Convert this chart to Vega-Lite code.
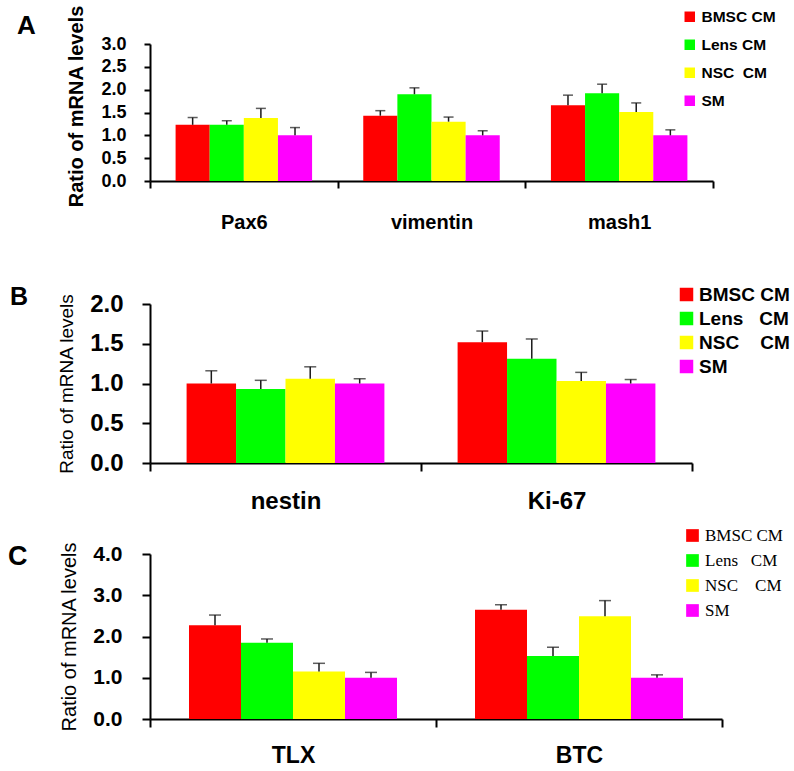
{
  "$schema": "https://vega.github.io/schema/vega-lite/v6.json",
  "padding": {"left": 8, "top": 4, "right": 0, "bottom": 0},
  "background": "white",
  "columns": 1,
  "align": "none",
  "bounds": "full",
  "spacing": 53,
  "datasets": {
    "a": [
      {"gene": "Pax6", "group": "BMSC CM", "value": 1.23, "upper": 1.39},
      {"gene": "Pax6", "group": "Lens CM", "value": 1.23, "upper": 1.32},
      {"gene": "Pax6", "group": "NSC CM", "value": 1.38, "upper": 1.59},
      {"gene": "Pax6", "group": "SM", "value": 1.0, "upper": 1.17},
      {"gene": "vimentin", "group": "BMSC CM", "value": 1.43, "upper": 1.54},
      {"gene": "vimentin", "group": "Lens CM", "value": 1.9, "upper": 2.04},
      {"gene": "vimentin", "group": "NSC CM", "value": 1.3, "upper": 1.4},
      {"gene": "vimentin", "group": "SM", "value": 1.0, "upper": 1.1},
      {"gene": "mash1", "group": "BMSC CM", "value": 1.66, "upper": 1.88},
      {"gene": "mash1", "group": "Lens CM", "value": 1.92, "upper": 2.12},
      {"gene": "mash1", "group": "NSC CM", "value": 1.51, "upper": 1.71},
      {"gene": "mash1", "group": "SM", "value": 1.0, "upper": 1.12}
    ],
    "b": [
      {"gene": "nestin", "group": "BMSC CM", "value": 1.0, "upper": 1.16},
      {"gene": "nestin", "group": "Lens CM", "value": 0.93, "upper": 1.04},
      {"gene": "nestin", "group": "NSC CM", "value": 1.06, "upper": 1.21},
      {"gene": "nestin", "group": "SM", "value": 1.0, "upper": 1.06},
      {"gene": "Ki-67", "group": "BMSC CM", "value": 1.52, "upper": 1.66},
      {"gene": "Ki-67", "group": "Lens CM", "value": 1.31, "upper": 1.56},
      {"gene": "Ki-67", "group": "NSC CM", "value": 1.03, "upper": 1.14},
      {"gene": "Ki-67", "group": "SM", "value": 1.0, "upper": 1.05}
    ],
    "c": [
      {"gene": "TLX", "group": "BMSC CM", "value": 2.27, "upper": 2.52},
      {"gene": "TLX", "group": "Lens CM", "value": 1.85, "upper": 1.94},
      {"gene": "TLX", "group": "NSC CM", "value": 1.15, "upper": 1.35},
      {"gene": "TLX", "group": "SM", "value": 1.0, "upper": 1.13},
      {"gene": "BTC", "group": "BMSC CM", "value": 2.65, "upper": 2.77},
      {"gene": "BTC", "group": "Lens CM", "value": 1.53, "upper": 1.74},
      {"gene": "BTC", "group": "NSC CM", "value": 2.49, "upper": 2.87},
      {"gene": "BTC", "group": "SM", "value": 1.0, "upper": 1.07}
    ]
  },
  "resolve": {"scale": {"color": "independent", "y": "independent", "x": "independent", "xOffset": "independent"}, "legend": {"color": "independent"}, "axis": {"x": "independent", "y": "independent"}},
  "concat": [
    {
      "width": 563,
      "height": 137,
      "title": {"text": "A", "anchor": "start", "frame": "group", "dx": -133, "dy": 34, "fontSize": 26, "font": "Liberation Sans", "fontWeight": "bold", "color": "black", "offset": 0},
      "data": {"name": "a"},
      "encoding": {
        "x": {"field": "gene", "type": "nominal", "sort": ["Pax6", "vimentin", "mash1"], "scale": {"paddingInner": 0, "paddingOuter": 0},
          "axis": {"title": null, "labelAngle": 0, "tickBand": "extent", "labelFont": "Liberation Sans", "labelFontWeight": "bold", "labelFontSize": 20, "labelColor": "black", "labelPadding": 24, "tickSize": 7, "tickWidth": 2, "tickColor": "black", "domainColor": "black", "domainWidth": 2}},
        "xOffset": {"field": "group", "type": "nominal", "sort": ["BMSC CM", "Lens CM", "NSC CM", "SM"], "scale": {"paddingInner": 0, "paddingOuter": 0.75}}
      },
      "layer": [
        {
          "mark": {"type": "bar"},
          "encoding": {
            "y": {"field": "value", "type": "quantitative", "scale": {"domain": [0, 3]},
              "axis": {"title": "Ratio of mRNA levels", "values": [0, 0.5, 1, 1.5, 2, 2.5, 3], "format": ".1f", "grid": false, "labelOverlap": false, "labelFont": "Liberation Sans", "labelFontWeight": "bold", "labelFontSize": 18, "labelColor": "black", "labelPadding": 18, "tickSize": 6, "tickWidth": 2, "tickColor": "black", "domainColor": "black", "domainWidth": 2, "titleFont": "Liberation Sans", "titleFontWeight": "bold", "titleFontSize": 20, "titleColor": "black", "titlePadding": 14, "titleY": 62}},
            "color": {"field": "group", "type": "nominal", "scale": {"domain": ["BMSC CM", "Lens CM", "NSC CM", "SM"], "range": ["#ff0000", "#00ff00", "#ffff00", "#ff00ff"]},
              "legend": {"title": null, "orient": "none", "legendX": 532, "legendY": -35, "padding": 0, "symbolType": "square", "symbolSize": 110, "symbolStrokeWidth": 0, "labelFont": "Liberation Sans", "labelFontWeight": "bold", "labelFontSize": 15.5, "labelColor": "black", "labelOffset": 4, "rowPadding": 11,
                "labelExpr": "datum.label == 'NSC CM' ? 'NSC\u00a0\u00a0CM' : datum.label"}}
          }
        },
        {
          "mark": {"type": "rule", "color": "#1a1a1a", "strokeWidth": 1.5},
          "encoding": {"y": {"field": "value", "type": "quantitative",
              "axis": {"title": "Ratio of mRNA levels", "values": [0, 0.5, 1, 1.5, 2, 2.5, 3], "format": ".1f", "grid": false, "labelOverlap": false, "labelFont": "Liberation Sans", "labelFontWeight": "bold", "labelFontSize": 18, "labelColor": "black", "labelPadding": 18, "tickSize": 6, "tickWidth": 2, "tickColor": "black", "domainColor": "black", "domainWidth": 2, "titleFont": "Liberation Sans", "titleFontWeight": "bold", "titleFontSize": 20, "titleColor": "black", "titlePadding": 14, "titleY": 62}},
            "y2": {"field": "upper"}}
        },
        {
          "mark": {"type": "tick", "color": "#1a1a1a", "thickness": 1.5, "size": 10},
          "encoding": {"y": {"field": "upper", "type": "quantitative",
              "axis": {"title": "Ratio of mRNA levels", "values": [0, 0.5, 1, 1.5, 2, 2.5, 3], "format": ".1f", "grid": false, "labelOverlap": false, "labelFont": "Liberation Sans", "labelFontWeight": "bold", "labelFontSize": 18, "labelColor": "black", "labelPadding": 18, "tickSize": 6, "tickWidth": 2, "tickColor": "black", "domainColor": "black", "domainWidth": 2, "titleFont": "Liberation Sans", "titleFontWeight": "bold", "titleFontSize": 20, "titleColor": "black", "titlePadding": 14, "titleY": 62}}}
        }
      ]
    },
    {
      "columns": 1,
      "spacing": 14,
      "align": "none",
      "bounds": "full",
      "resolve": {"scale": {"color": "independent", "y": "independent", "x": "independent", "xOffset": "independent"}, "legend": {"color": "independent"}, "axis": {"x": "independent", "y": "independent"}},
      "concat": [
        {
          "width": 542,
          "height": 159,
          "title": {"text": "B", "anchor": "start", "frame": "group", "dx": -140, "dy": 25, "fontSize": 25, "font": "Liberation Sans", "fontWeight": "bold", "color": "black", "offset": 0},
          "data": {"name": "b"},
          "encoding": {
            "x": {"field": "gene", "type": "nominal", "sort": ["nestin", "Ki-67"], "scale": {"paddingInner": 0, "paddingOuter": 0},
              "axis": {"title": null, "labelAngle": 0, "tickBand": "extent", "labelFont": "Liberation Sans", "labelFontWeight": "bold", "labelFontSize": 24, "labelColor": "black", "labelPadding": 18, "tickSize": 8, "tickWidth": 2, "tickColor": "black", "domainColor": "black", "domainWidth": 2}},
            "xOffset": {"field": "group", "type": "nominal", "sort": ["BMSC CM", "Lens CM", "NSC CM", "SM"], "scale": {"paddingInner": 0, "paddingOuter": 0.74}}
          },
          "layer": [
            {
              "mark": {"type": "bar"},
              "encoding": {
                "y": {"field": "value", "type": "quantitative", "scale": {"domain": [0, 2]},
                  "axis": {"title": "Ratio of mRNA levels", "values": [0, 0.5, 1, 1.5, 2], "format": ".1f", "grid": false, "labelOverlap": false, "labelFont": "Liberation Sans", "labelFontWeight": "bold", "labelFontSize": 24, "labelColor": "black", "labelPadding": 19, "tickSize": 8, "tickWidth": 2, "tickColor": "black", "domainColor": "black", "domainWidth": 2, "titleFont": "Liberation Sans", "titleFontWeight": "normal", "titleFontSize": 19, "titleColor": "black", "titlePadding": 13}},
                "color": {"field": "group", "type": "nominal", "scale": {"domain": ["BMSC CM", "Lens CM", "NSC CM", "SM"], "range": ["#ff0000", "#00ff00", "#ffff00", "#ff00ff"]},
                  "legend": {"title": null, "orient": "none", "legendX": 527, "legendY": -19, "padding": 0, "symbolType": "square", "symbolSize": 182, "symbolStrokeWidth": 0, "labelFont": "Liberation Sans", "labelFontWeight": "bold", "labelFontSize": 19, "labelColor": "black", "labelOffset": 3, "rowPadding": 4,
                    "labelExpr": "datum.label == 'NSC CM' ? 'NSC\u00a0\u00a0\u00a0\u00a0CM' : datum.label == 'Lens CM' ? 'Lens\u00a0\u00a0\u00a0CM' : datum.label"}}
              }
            },
            {
              "mark": {"type": "rule", "color": "#1a1a1a", "strokeWidth": 1.5},
              "encoding": {"y": {"field": "value", "type": "quantitative",
                  "axis": {"title": "Ratio of mRNA levels", "values": [0, 0.5, 1, 1.5, 2], "format": ".1f", "grid": false, "labelOverlap": false, "labelFont": "Liberation Sans", "labelFontWeight": "bold", "labelFontSize": 24, "labelColor": "black", "labelPadding": 19, "tickSize": 8, "tickWidth": 2, "tickColor": "black", "domainColor": "black", "domainWidth": 2, "titleFont": "Liberation Sans", "titleFontWeight": "normal", "titleFontSize": 19, "titleColor": "black", "titlePadding": 13}},
                "y2": {"field": "upper"}}
            },
            {
              "mark": {"type": "tick", "color": "#1a1a1a", "thickness": 1.5, "size": 12},
              "encoding": {"y": {"field": "upper", "type": "quantitative",
                  "axis": {"title": "Ratio of mRNA levels", "values": [0, 0.5, 1, 1.5, 2], "format": ".1f", "grid": false, "labelOverlap": false, "labelFont": "Liberation Sans", "labelFontWeight": "bold", "labelFontSize": 24, "labelColor": "black", "labelPadding": 19, "tickSize": 8, "tickWidth": 2, "tickColor": "black", "domainColor": "black", "domainWidth": 2, "titleFont": "Liberation Sans", "titleFontWeight": "normal", "titleFontSize": 19, "titleColor": "black", "titlePadding": 13}}}
            }
          ]
        },
        {
          "width": 572,
          "height": 165,
          "title": {"text": "C", "anchor": "start", "frame": "group", "dx": -142, "dy": 44, "fontSize": 27, "font": "Liberation Sans", "fontWeight": "bold", "color": "black", "offset": 0},
          "data": {"name": "c"},
          "encoding": {
            "x": {"field": "gene", "type": "nominal", "sort": ["TLX", "BTC"], "scale": {"paddingInner": 0, "paddingOuter": 0},
              "axis": {"title": null, "labelAngle": 0, "tickBand": "extent", "labelFont": "Liberation Sans", "labelFontWeight": "bold", "labelFontSize": 23, "labelColor": "black", "labelPadding": 17, "tickSize": 8, "tickWidth": 2, "tickColor": "black", "domainColor": "black", "domainWidth": 2}},
            "xOffset": {"field": "group", "type": "nominal", "sort": ["BMSC CM", "Lens CM", "NSC CM", "SM"], "scale": {"paddingInner": 0, "paddingOuter": 0.75}}
          },
          "layer": [
            {
              "mark": {"type": "bar"},
              "encoding": {
                "y": {"field": "value", "type": "quantitative", "scale": {"domain": [0, 4]},
                  "axis": {"title": "Ratio of mRNA levels", "values": [0, 1, 2, 3, 4], "format": ".1f", "grid": false, "labelOverlap": false, "labelFont": "Liberation Sans", "labelFontWeight": "bold", "labelFontSize": 21, "labelColor": "black", "labelPadding": 20, "tickSize": 8, "tickWidth": 2, "tickColor": "black", "domainColor": "black", "domainWidth": 2, "titleFont": "Liberation Sans", "titleFontWeight": "normal", "titleFontSize": 20, "titleColor": "black", "titlePadding": 13}},
                "color": {"field": "group", "type": "nominal", "scale": {"domain": ["BMSC CM", "Lens CM", "NSC CM", "SM"], "range": ["#ff0000", "#00ff00", "#ffff00", "#ff00ff"]},
                  "legend": {"title": null, "orient": "none", "legendX": 534, "legendY": -27, "padding": 0, "symbolType": "square", "symbolSize": 161, "symbolStrokeWidth": 0, "labelFont": "Liberation Serif", "labelFontWeight": "normal", "labelFontSize": 17, "labelColor": "black", "labelOffset": 4, "rowPadding": 7,
                    "labelExpr": "datum.label == 'NSC CM' ? 'NSC\u00a0\u00a0\u00a0\u00a0CM' : datum.label == 'Lens CM' ? 'Lens\u00a0\u00a0\u00a0CM' : datum.label"}}
              }
            },
            {
              "mark": {"type": "rule", "color": "#1a1a1a", "strokeWidth": 1.5},
              "encoding": {"y": {"field": "value", "type": "quantitative",
                  "axis": {"title": "Ratio of mRNA levels", "values": [0, 1, 2, 3, 4], "format": ".1f", "grid": false, "labelOverlap": false, "labelFont": "Liberation Sans", "labelFontWeight": "bold", "labelFontSize": 21, "labelColor": "black", "labelPadding": 20, "tickSize": 8, "tickWidth": 2, "tickColor": "black", "domainColor": "black", "domainWidth": 2, "titleFont": "Liberation Sans", "titleFontWeight": "normal", "titleFontSize": 20, "titleColor": "black", "titlePadding": 13}},
                "y2": {"field": "upper"}}
            },
            {
              "mark": {"type": "tick", "color": "#1a1a1a", "thickness": 1.5, "size": 12},
              "encoding": {"y": {"field": "upper", "type": "quantitative",
                  "axis": {"title": "Ratio of mRNA levels", "values": [0, 1, 2, 3, 4], "format": ".1f", "grid": false, "labelOverlap": false, "labelFont": "Liberation Sans", "labelFontWeight": "bold", "labelFontSize": 21, "labelColor": "black", "labelPadding": 20, "tickSize": 8, "tickWidth": 2, "tickColor": "black", "domainColor": "black", "domainWidth": 2, "titleFont": "Liberation Sans", "titleFontWeight": "normal", "titleFontSize": 20, "titleColor": "black", "titlePadding": 13}}}
            }
          ]
        }
      ]
    }
  ],
  "config": {"view": {"stroke": null}, "axis": {"labelColor": "black"}}
}
